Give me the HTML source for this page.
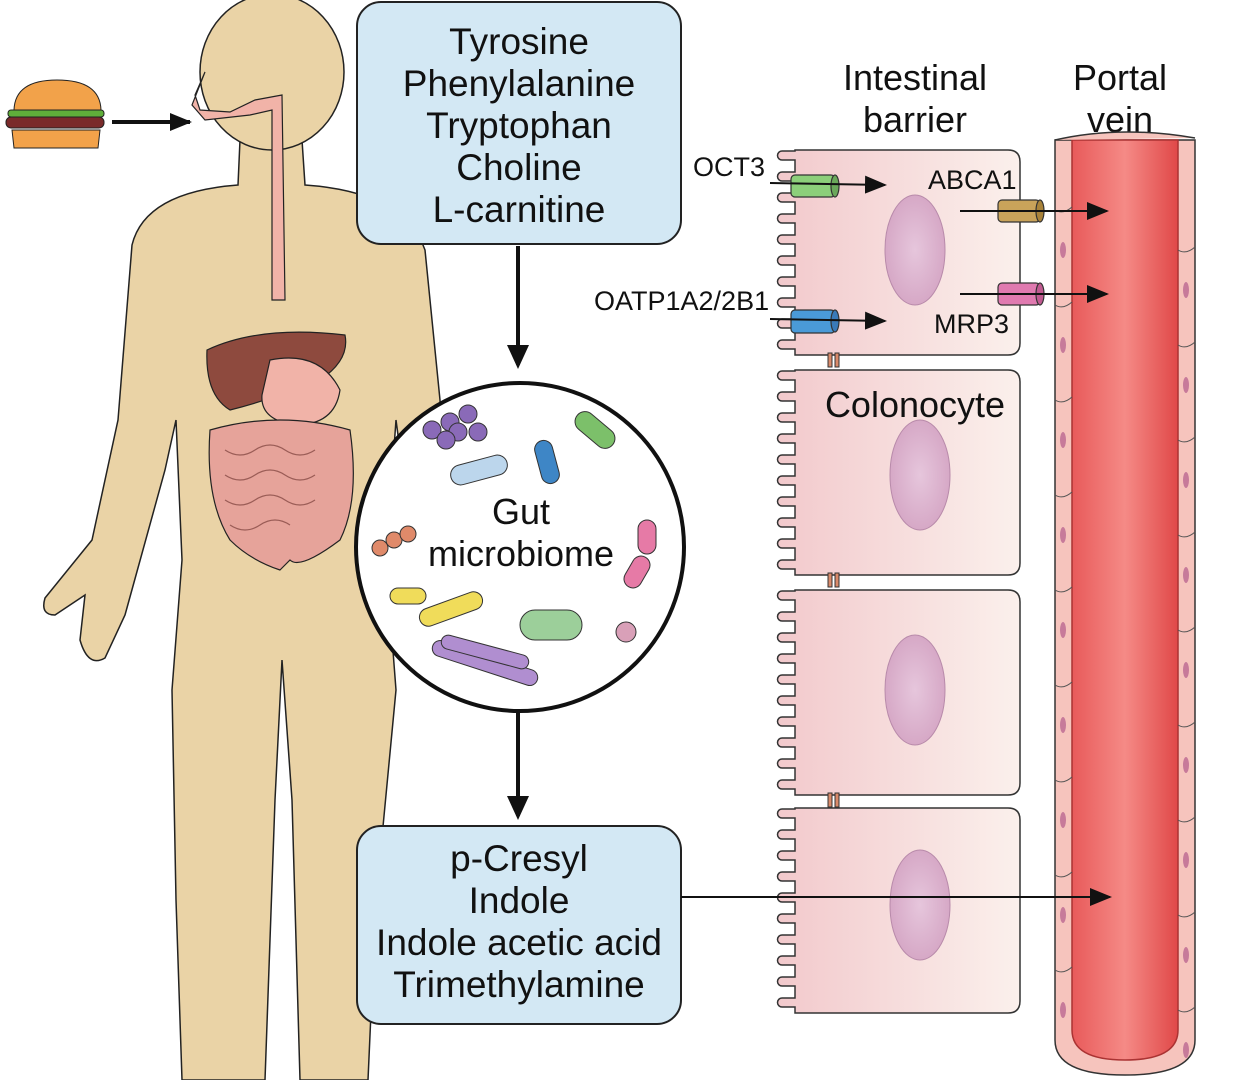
<!DOCTYPE html>
<html><head><meta charset="utf-8"><style>
html,body{margin:0;padding:0;background:#fff}
svg{display:block}
text{font-family:"Liberation Sans",Arial,sans-serif;fill:#111}
</style></head><body>
<svg id="s" width="1238" height="1080" viewBox="0 0 1238 1080" xmlns="http://www.w3.org/2000/svg">
<defs>
<linearGradient id="cell" x1="0" x2="1"><stop offset="0" stop-color="#f2c9cc"/><stop offset="1" stop-color="#fbf0ec"/></linearGradient>
<linearGradient id="lumen" x1="0" x2="1"><stop offset="0" stop-color="#e85a5a"/><stop offset="0.5" stop-color="#f58a86"/><stop offset="1" stop-color="#e04848"/></linearGradient>
<radialGradient id="nuc"><stop offset="0" stop-color="#e6c6dc"/><stop offset="1" stop-color="#d6a8c6"/></radialGradient>
<marker id="bh" markerWidth="24" markerHeight="22" refX="20" refY="11" orient="auto" markerUnits="userSpaceOnUse"><path d="M0,0 L24,11 L0,22 Z" fill="#111"/></marker>
<marker id="mh" markerWidth="22" markerHeight="18" refX="20" refY="9" orient="auto" markerUnits="userSpaceOnUse"><path d="M0,0 L22,9 L0,18 Z" fill="#111"/></marker>
</defs>

<!-- body -->
<g fill="#ead3a6" stroke="#222" stroke-width="1.5">
<path d="M240 140 L238 185 Q145 192 132 245 L118 420 L92 540 L45 598 Q40 615 55 615 L85 595 L80 640 Q88 668 105 658 L125 615 L165 470 L176 420 L182 560 L172 690 L176 900 L182 1080 L265 1080 L275 800 L282 660 L292 800 L300 1080 L368 1080 L376 900 L396 690 L386 560 L396 420 L420 600 L445 600 L440 400 L425 250 Q405 192 305 185 L302 140 Z"/>
<ellipse cx="272" cy="72" rx="72" ry="78"/>
</g>
<path d="M205 72 L195 95 L200 110 L230 112 L255 100 L282 95 L285 300 L272 300 L272 110 L250 115 L205 120 L192 105 Z" fill="#f1b3a8" stroke="#222" stroke-width="1.2"/>
<path d="M207 350 Q260 325 345 335 Q350 360 320 380 Q270 400 230 410 Q205 395 207 350Z" fill="#8e4a3e" stroke="#222" stroke-width="1.2"/>
<path d="M270 360 Q320 350 340 390 Q335 425 295 425 Q260 420 262 395 Z" fill="#f1b3a8" stroke="#222" stroke-width="1.2"/>
<path d="M210 430 Q280 410 350 430 Q360 500 340 540 Q300 570 290 560 L280 570 Q250 560 230 540 Q205 500 210 430Z" fill="#e6a39a" stroke="#222" stroke-width="1.2"/>
<g fill="none" stroke="#9a5c56" stroke-width="1.2"><path d="M225 450 q15 10 30 0 q15-10 30 0 q15 10 30 0M225 475 q15 10 30 0 q15-10 30 0 q15 10 30 0M225 500 q15 10 30 0 q15-10 30 0 q15 10 30 0M230 525 q15 10 30 0 q15-10 30 0"/></g>

<!-- burger -->
<path d="M14 110 Q15 80 57 80 Q100 80 101 110 Z" fill="#f2a24a" stroke="#222"/>
<rect x="8" y="110" width="96" height="7" rx="3" fill="#5fae3a" stroke="#222"/>
<rect x="6" y="117" width="98" height="11" rx="5" fill="#7a2a2a" stroke="#222"/>
<path d="M12 130 L100 130 L98 148 L14 148 Z" fill="#f2a24a" stroke="#222"/>
<line x1="112" y1="122" x2="190" y2="122" stroke="#111" stroke-width="4" marker-end="url(#mh)"/>

<!-- boxes -->
<rect x="357" y="2" width="324" height="242" rx="24" fill="#d3e8f4" stroke="#222" stroke-width="2"/>
<g font-size="37" text-anchor="middle"><text x="519" y="54">Tyrosine</text><text x="519" y="96">Phenylalanine</text><text x="519" y="138">Tryptophan</text><text x="519" y="180">Choline</text><text x="519" y="222">L-carnitine</text></g>
<rect x="357" y="826" width="324" height="198" rx="24" fill="#d3e8f4" stroke="#222" stroke-width="2"/>
<g font-size="37" text-anchor="middle"><text x="519" y="871">p-Cresyl</text><text x="519" y="913">Indole</text><text x="519" y="955">Indole acetic acid</text><text x="519" y="997">Trimethylamine</text></g>
<line x1="518" y1="246" x2="518" y2="365" stroke="#111" stroke-width="4" marker-end="url(#bh)"/>
<line x1="518" y1="712" x2="518" y2="816" stroke="#111" stroke-width="4" marker-end="url(#bh)"/>

<!-- circle -->
<circle cx="520" cy="547" r="164" fill="#fff" stroke="#111" stroke-width="4"/>
<g stroke="#333" stroke-width="1">
<circle cx="432" cy="430" r="9" fill="#8a6ab8"/><circle cx="450" cy="422" r="9" fill="#8a6ab8"/><circle cx="468" cy="414" r="9" fill="#8a6ab8"/><circle cx="458" cy="432" r="9" fill="#8a6ab8"/><circle cx="478" cy="432" r="9" fill="#8a6ab8"/><circle cx="446" cy="440" r="9" fill="#8a6ab8"/>
<rect x="450" y="460" width="58" height="20" rx="10" fill="#bcd6ec" transform="rotate(-15 479 470)"/>
<rect x="538" y="440" width="18" height="44" rx="9" fill="#3e86c6" transform="rotate(-15 547 462)"/>
<rect x="572" y="420" width="46" height="20" rx="10" fill="#7cc06a" transform="rotate(40 595 430)"/>
<circle cx="380" cy="548" r="8" fill="#e08a6a"/><circle cx="394" cy="540" r="8" fill="#e08a6a"/><circle cx="408" cy="534" r="8" fill="#e08a6a"/>
<rect x="638" y="520" width="18" height="34" rx="9" fill="#e67aa6"/><rect x="628" y="555" width="18" height="34" rx="9" fill="#e67aa6" transform="rotate(30 637 572)"/>
<rect x="390" y="588" width="36" height="16" rx="8" fill="#f0dc5a"/><rect x="418" y="600" width="66" height="18" rx="9" fill="#f0dc5a" transform="rotate(-20 451 609)"/>
<rect x="520" y="610" width="62" height="30" rx="15" fill="#9ccf9a"/>
<circle cx="626" cy="632" r="10" fill="#d9a0b8"/>
<rect x="430" y="655" width="110" height="16" rx="8" fill="#b08ed0" transform="rotate(18 485 663)"/><rect x="440" y="645" width="90" height="14" rx="7" fill="#b08ed0" transform="rotate(15 485 652)"/>
</g>
<g font-size="36" text-anchor="middle"><text x="521" y="524">Gut</text><text x="521" y="566">microbiome</text></g>

<!-- cells -->
<g id="cells"></g>
<g fill="url(#nuc)" stroke="#b88aaa"><ellipse cx="915" cy="250" rx="30" ry="55"/><ellipse cx="920" cy="475" rx="30" ry="55"/><ellipse cx="915" cy="690" rx="30" ry="55"/><ellipse cx="920" cy="905" rx="30" ry="55"/></g>
<text x="915" y="417" font-size="36" text-anchor="middle">Colonocyte</text>
<g font-size="36" text-anchor="middle"><text x="915" y="90">Intestinal</text><text x="915" y="132">barrier</text><text x="1120" y="90">Portal</text><text x="1120" y="132">vein</text></g>

<!-- vein -->
<path d="M1055 140 L1055 1040 Q1055 1075 1125 1075 Q1195 1075 1195 1040 L1195 140 Z" fill="#f6c4bd" stroke="#333" stroke-width="1.5"/>
<path d="M1072 140 L1072 1030 Q1072 1060 1125 1060 Q1178 1060 1178 1030 L1178 140 Z" fill="url(#lumen)" stroke="#a33" stroke-width="1.5"/>
<g id="vw" stroke="#555" stroke-width="1" fill="none"></g>
<path d="M1055 140 Q1120 125 1195 138" fill="#f6c4bd" stroke="#333" stroke-width="1.5"/>

<!-- transporters -->
<g stroke="#333" stroke-width="1.2">
<rect x="791" y="175" width="44" height="22" rx="4" fill="#8ccf7a"/><ellipse cx="835" cy="186" rx="4" ry="11" fill="#6aa85a"/>
<rect x="791" y="310" width="44" height="23" rx="4" fill="#4a9ad8"/><ellipse cx="835" cy="321" rx="4" ry="11" fill="#3a7ab8"/>
<rect x="998" y="200" width="42" height="22" rx="4" fill="#c9a35a"/><ellipse cx="1040" cy="211" rx="4" ry="11" fill="#a9833a"/>
<rect x="998" y="283" width="42" height="22" rx="4" fill="#e07ab0"/><ellipse cx="1040" cy="294" rx="4" ry="11" fill="#c05a90"/>
</g>
<g stroke="#111" stroke-width="2">
<line x1="770" y1="183" x2="885" y2="185" marker-end="url(#mh)"/>
<line x1="770" y1="319" x2="885" y2="321" marker-end="url(#mh)"/>
<line x1="960" y1="211" x2="1107" y2="211" marker-end="url(#mh)"/>
<line x1="960" y1="294" x2="1107" y2="294" marker-end="url(#mh)"/>
<line x1="681" y1="897" x2="1110" y2="897" marker-end="url(#mh)"/>
</g>
<g font-size="27"><text x="693" y="176">OCT3</text><text x="594" y="310">OATP1A2/2B1</text><text x="928" y="189">ABCA1</text><text x="934" y="333">MRP3</text></g>
</svg>
<script>
var ns="http://www.w3.org/2000/svg",g=document.getElementById("cells");
[[150,355],[370,575],[590,795],[808,1013]].forEach(function(c){
 var y0=c[0],y1=c[1],d="M795 "+y0+" L1008 "+y0+" Q1020 "+y0+" 1020 "+(y0+12)+" L1020 "+(y1-12)+" Q1020 "+y1+" 1008 "+y1+" L795 "+y1;
 for(var y=y1-6;y>y0+8;y-=21){d+=" L795 "+y+" L782 "+y+" A4 4 0 0 1 782 "+(y-9)+" L795 "+(y-9);}
 d+=" Z";var p=document.createElementNS(ns,"path");p.setAttribute("d",d);p.setAttribute("fill","url(#cell)");p.setAttribute("stroke","#333");p.setAttribute("stroke-width","1.5");g.appendChild(p);});
[360,580,800].forEach(function(y){for(var i=0;i<2;i++){var r=document.createElementNS(ns,"rect");r.setAttribute("x",828+i*7);r.setAttribute("y",y-7);r.setAttribute("width",4);r.setAttribute("height",14);r.setAttribute("fill","#d98a6a");r.setAttribute("stroke","#333");g.appendChild(r);}});
var v=document.getElementById("vw"),s="";
for(var y=210;y<1020;y+=95){s+="M1055 "+y+" Q1063 "+(y+5)+" 1072 "+(y-3)+" ";s+="M1178 "+(y+40)+" Q1186 "+(y+45)+" 1195 "+(y+37)+" ";}
var pp=document.createElementNS(ns,"path");pp.setAttribute("d",s);v.appendChild(pp);
for(var y=250;y<1020;y+=95){[1063,1186].forEach(function(x,i){var e=document.createElementNS(ns,"ellipse");e.setAttribute("cx",x);e.setAttribute("cy",y+i*40);e.setAttribute("rx",3);e.setAttribute("ry",8);e.setAttribute("fill","#c77a9a");e.setAttribute("stroke","none");v.appendChild(e);});}
</script>
</body></html>
